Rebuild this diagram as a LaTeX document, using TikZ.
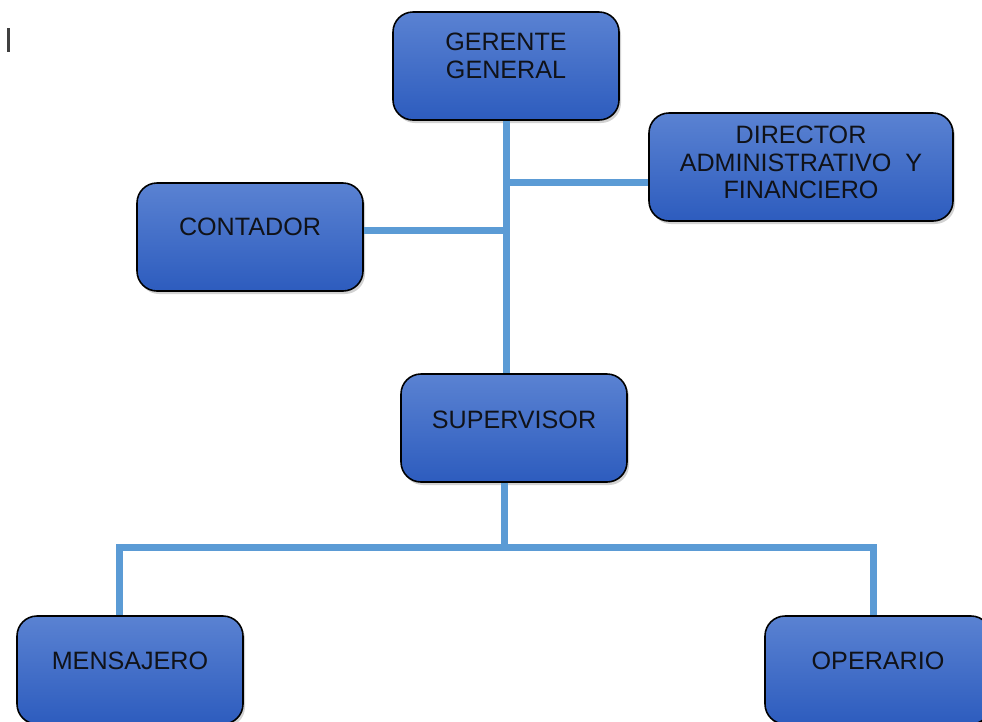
\documentclass[tikz,border=0pt]{standalone}
\usepackage{fontspec}
\setmainfont{Liberation Sans}
\usetikzlibrary{shadows}
\definecolor{linea}{RGB}{91,155,213}
\definecolor{cajaarriba}{RGB}{90,130,210}
\definecolor{cajaabajo}{RGB}{45,92,190}
\definecolor{letra}{RGB}{16,18,24}
\tikzset{
  cargo/.style = {draw = black, line width = 0.9pt, rounded corners = 0.4cm,
    top color = cajaarriba, bottom color = cajaabajo,
    minimum width = 4.52cm, minimum height = 2.16cm, inner sep = 0pt,
    drop shadow = {opacity = 0.35, shadow xshift = 0.04cm, shadow yshift = -0.06cm}},
  rotulo/.style = {text = letra, align = center, inner sep = 0pt,
    font = \fontsize{14.3}{15.6}\selectfont},
  rama/.style = {draw = linea, line width = 0.14cm}
}
\begin{document}
\begin{tikzpicture}
\useasboundingbox (0,0) rectangle (19.64,-14.42);
\fill [white] (0,0) rectangle (19.64,-14.42);
\draw [gray!50!black, line width = 1.4pt] (0.17,-0.56) -- (0.17,-1.04);

\node [cargo] (gerente) at (10.12,-1.32) {};
\node [cargo, minimum width = 6.08cm] (director) at (16.02,-3.34) {};
\node [cargo] (contador) at (5.0,-4.74) {};
\node [cargo] (supervisor) at (10.28,-8.56) {};
\node [cargo] (mensajero) at (2.6,-13.4) {};
\node [cargo] (operario) at (17.56,-13.4) {};

\coordinate (union) at (10.08,-10.94);
\draw [rama] (gerente.south) -- (gerente.south |- supervisor.north);
\draw [rama] ([yshift=-0.3cm]director.west) -- ([yshift=-0.3cm]director.west -| gerente.south);
\draw [rama] ([yshift=0.14cm]contador.east) -- ([yshift=0.14cm]contador.east -| gerente.south);
\draw [rama] (supervisor.south -| union) -- (union);
\draw [rama] (mensajero.north -| 2.38,0) |- (union) -| (operario.north -| 17.46,0);

\node [rotulo] (gerente-t) at ([yshift=0.2cm]gerente.center) {GERENTE\\GENERAL};
\node [rotulo] (director-t) at ([yshift=0.09cm]director.center) {DIRECTOR\\ADMINISTRATIVO\ \ Y\\FINANCIERO};
\node [rotulo] (contador-t) at ([yshift=0.2cm]contador.center) {CONTADOR};
\node [rotulo] (supervisor-t) at ([yshift=0.16cm]supervisor.center) {SUPERVISOR};
\node [rotulo] (mensajero-t) at ([yshift=0.18cm]mensajero.center) {MENSAJERO};
\node [rotulo] (operario-t) at ([yshift=0.18cm]operario.center) {OPERARIO};
\end{tikzpicture}
\end{document}
